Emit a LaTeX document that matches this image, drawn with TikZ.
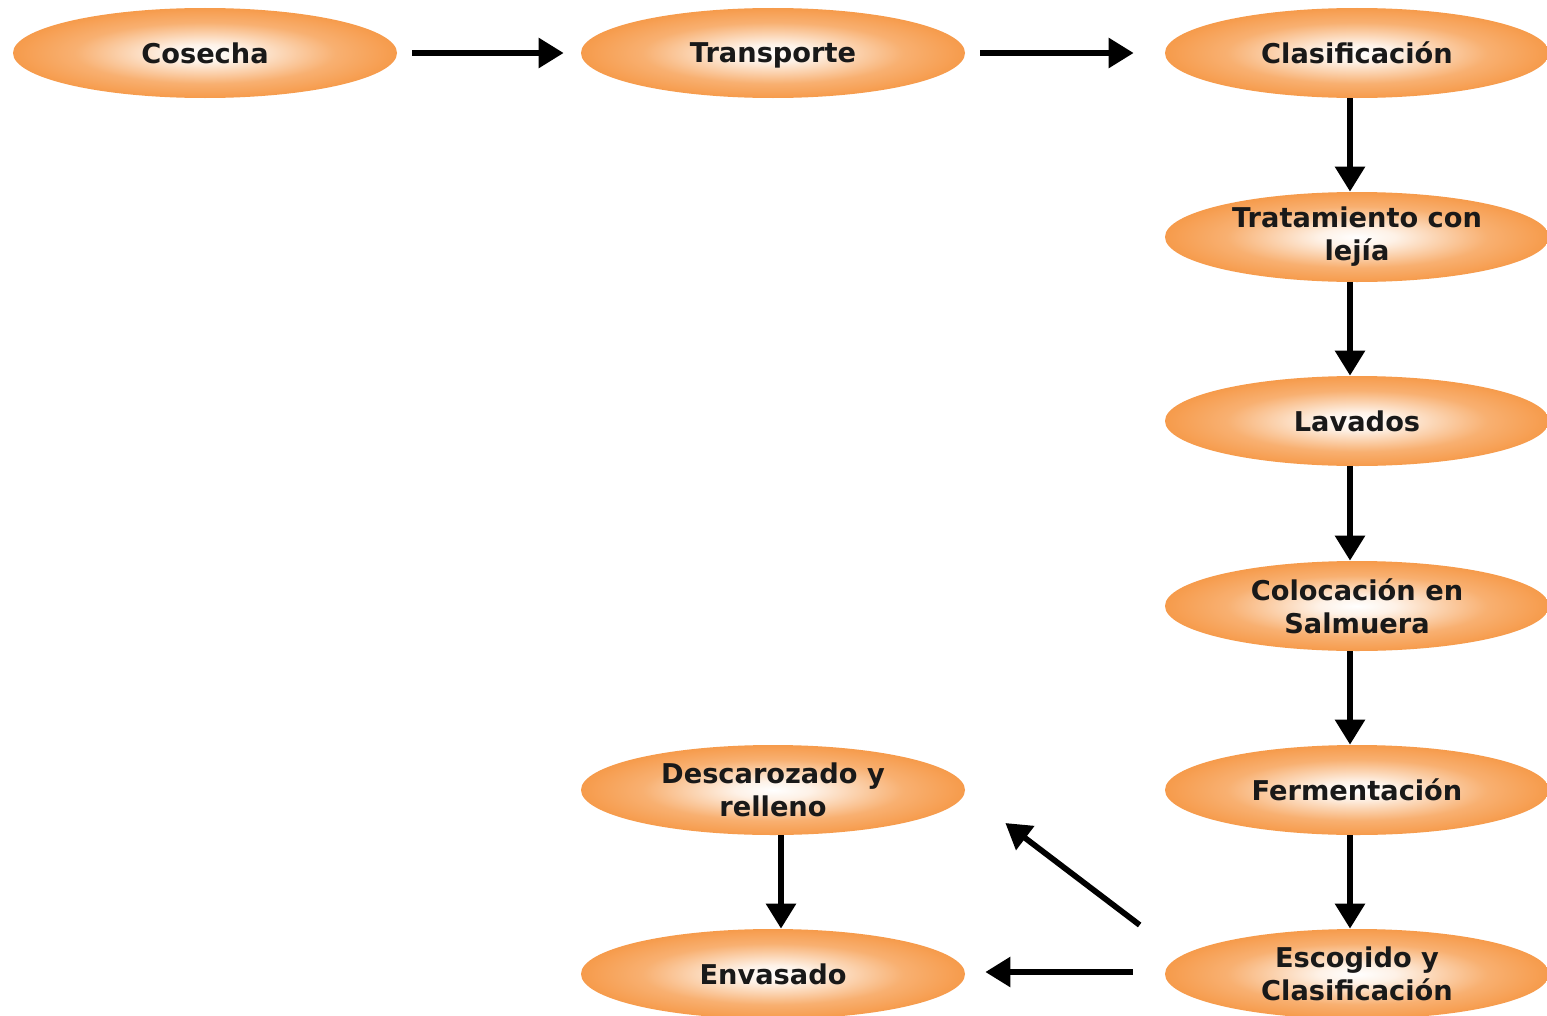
\documentclass[tikz,border=0pt]{standalone}
\usepackage{fontspec}
\setmainfont{DejaVu Sans}
\usepackage{tikz}
\usetikzlibrary{shapes.geometric}
\usetikzlibrary{arrows.meta}
\usepackage{xcolor}

\definecolor{naranja}{RGB}{245,142,52}
\pgfdeclareradialshading{huevo}{\pgfpoint{0bp}{0bp}}{color(0bp)=(white); color(5bp)=(white!88!naranja); color(17bp)=(naranja!70!white); color(30bp)=(naranja); color(50bp)=(naranja)}

\tikzset{etapa/.style={ellipse, shading=huevo, minimum width=7.68cm, minimum height=1.8cm, inner sep=0pt, align=center, font=\fontsize{15.5}{18.8}\selectfont\bfseries, text=black!90}}
\tikzset{flecha/.style={-{Triangle[length=0.5cm,width=0.58cm]}, line width=0.115cm}}

\begin{document}
\begin{tikzpicture}

\useasboundingbox (0,0) rectangle (30.94,-20.32);
\fill[white] (0,0) rectangle (30.94,-20.32);

\node (cosecha) at (4.10,-1.06) [etapa] {Cosecha};
\node (transporte) at (15.46,-1.06) [etapa] {Trans\smash{p}orte};
\node (clasif) at (27.14,-1.06) [etapa] {Clasificación};
\node (lejia) at (27.14,-4.74) [etapa] {Tratamiento con\\lejía};
\node (lavados) at (27.14,-8.42) [etapa] {Lavados};
\node (salmuera) at (27.14,-12.12) [etapa] {Colocación en\\Salmuera};
\node (ferment) at (27.14,-15.80) [etapa] {Fermentación};
\node (escogido) at (27.14,-19.48) [etapa] {Escogido y\\Clasificación};
\node (descaroz) at (15.46,-15.80) [etapa] {Descarozado y\\relleno};
\node (envasado) at (15.46,-19.48) [etapa] {Envasado};


\draw[flecha, shorten <=0.3cm, shorten >=0.34cm] (cosecha) -- (transporte);
\draw[flecha, shorten <=0.3cm, shorten >=0.62cm] (transporte) -- (clasif);

\draw[flecha] ([xshift=-0.14cm]clasif.south) -- ([xshift=-0.14cm]lejia.north);
\draw[flecha] ([xshift=-0.14cm]lejia.south) -- ([xshift=-0.14cm]lavados.north);
\draw[flecha] ([xshift=-0.14cm]lavados.south) -- ([xshift=-0.14cm]salmuera.north);
\draw[flecha] ([xshift=-0.14cm]salmuera.south) -- ([xshift=-0.14cm]ferment.north);
\draw[flecha] ([xshift=-0.14cm]ferment.south) -- ([xshift=-0.14cm]escogido.north);

\draw[flecha] ([xshift=-0.5cm,yshift=0.98cm]escogido.west) -- ([xshift=0.8cm,yshift=-0.66cm]descaroz.east);
\draw[flecha, shorten <=0.64cm, shorten >=0.4cm] ([yshift=0.04cm]escogido.west) -- ([yshift=0.04cm]envasado.east);

\draw[flecha] ([xshift=0.16cm]descaroz.south) -- ([xshift=0.16cm]envasado.north);

\end{tikzpicture}
\end{document}
